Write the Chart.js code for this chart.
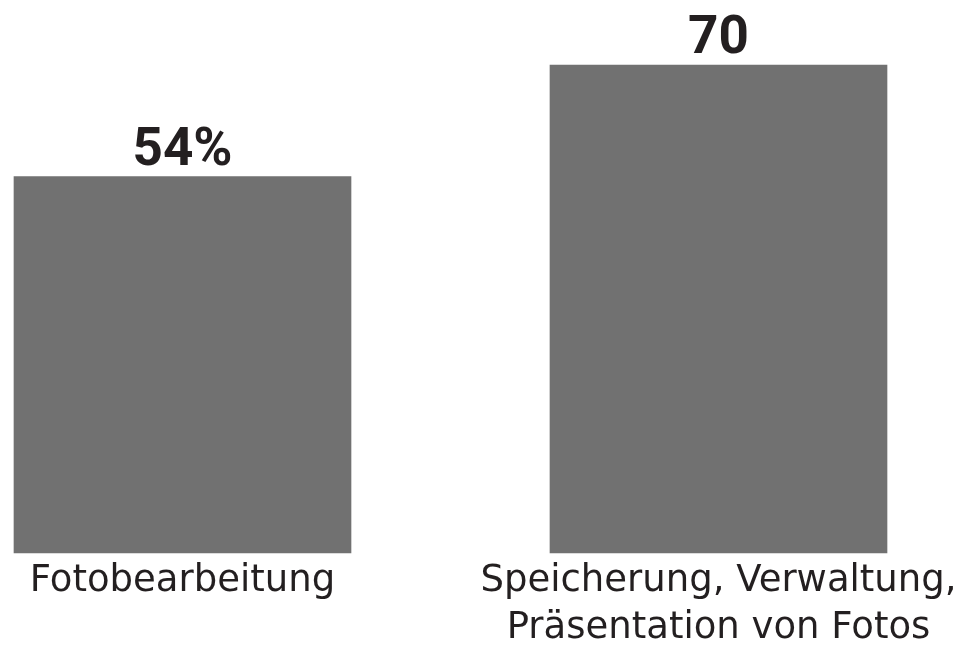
<!DOCTYPE html>
<html lang="de">
<head>
    <meta charset="UTF-8">
    <title>Fotobearbeitung</title>
    <script src="https://cdn.jsdelivr.net/npm/chart.js"></script>
    <style>
        html, body {
            margin: 0;
            padding: 0;
            background: white;
        }
        .container {
            width: 969px;
            height: 646px;
        }
    </style>
</head>
<body>
    <div class="container">
        <canvas id="grafik"></canvas>
    </div>

    <script>
        // Daten
        const kategorien = ['Fotobearbeitung', ['Speicherung, Verwaltung,', 'Präsentation von Fotos']];
        const werte = [54, 70];
        const wertLabels = ['54%', '70'];

        // Werte über den Balken
        const wertePlugin = {
            id: 'werteOben',
            afterDatasetsDraw(chart) {
                const ctx = chart.ctx;
                const meta = chart.getDatasetMeta(0);
                ctx.save();
                ctx.font = 'bold 53px Roboto';
                ctx.fillStyle = '#231f20';
                ctx.textAlign = 'center';
                ctx.textBaseline = 'alphabetic';
                meta.data.forEach((bar, i) => {
                    ctx.fillText(wertLabels[i], bar.x, bar.y - 12);
                });
                ctx.restore();
            }
        };

        let ctx = document.getElementById('grafik').getContext('2d');
        let chart = new Chart(ctx, {
            type: 'bar',
            data: {
                labels: kategorien,
                datasets: [{
                    data: werte,
                    backgroundColor: '#717171',
                    barThickness: 337,
                    clip: false
                }]
            },
            options: {
                responsive: true,
                maintainAspectRatio: false,
                animation: false,
                layout: {
                    padding: { top: 65, left: 182.5, right: 250.5, bottom: 0 }
                },
                plugins: {
                    legend: { display: false },
                    tooltip: { enabled: false }
                },
                scales: {
                    x: {
                        offset: false,
                        grid: { display: false },
                        border: { display: false },
                        afterFit(scale) {
                            scale.height = 93;
                        },
                        ticks: {
                            autoSkip: false,
                            maxRotation: 0,
                            minRotation: 0,
                            padding: -3,
                            color: '#231f20',
                            font: { family: 'DejaVu Sans', size: 37, lineHeight: '47px' }
                        }
                    },
                    y: {
                        display: false,
                        min: 0,
                        max: 70
                    }
                }
            },
            plugins: [wertePlugin]
        });
    </script>
</body>
</html>
